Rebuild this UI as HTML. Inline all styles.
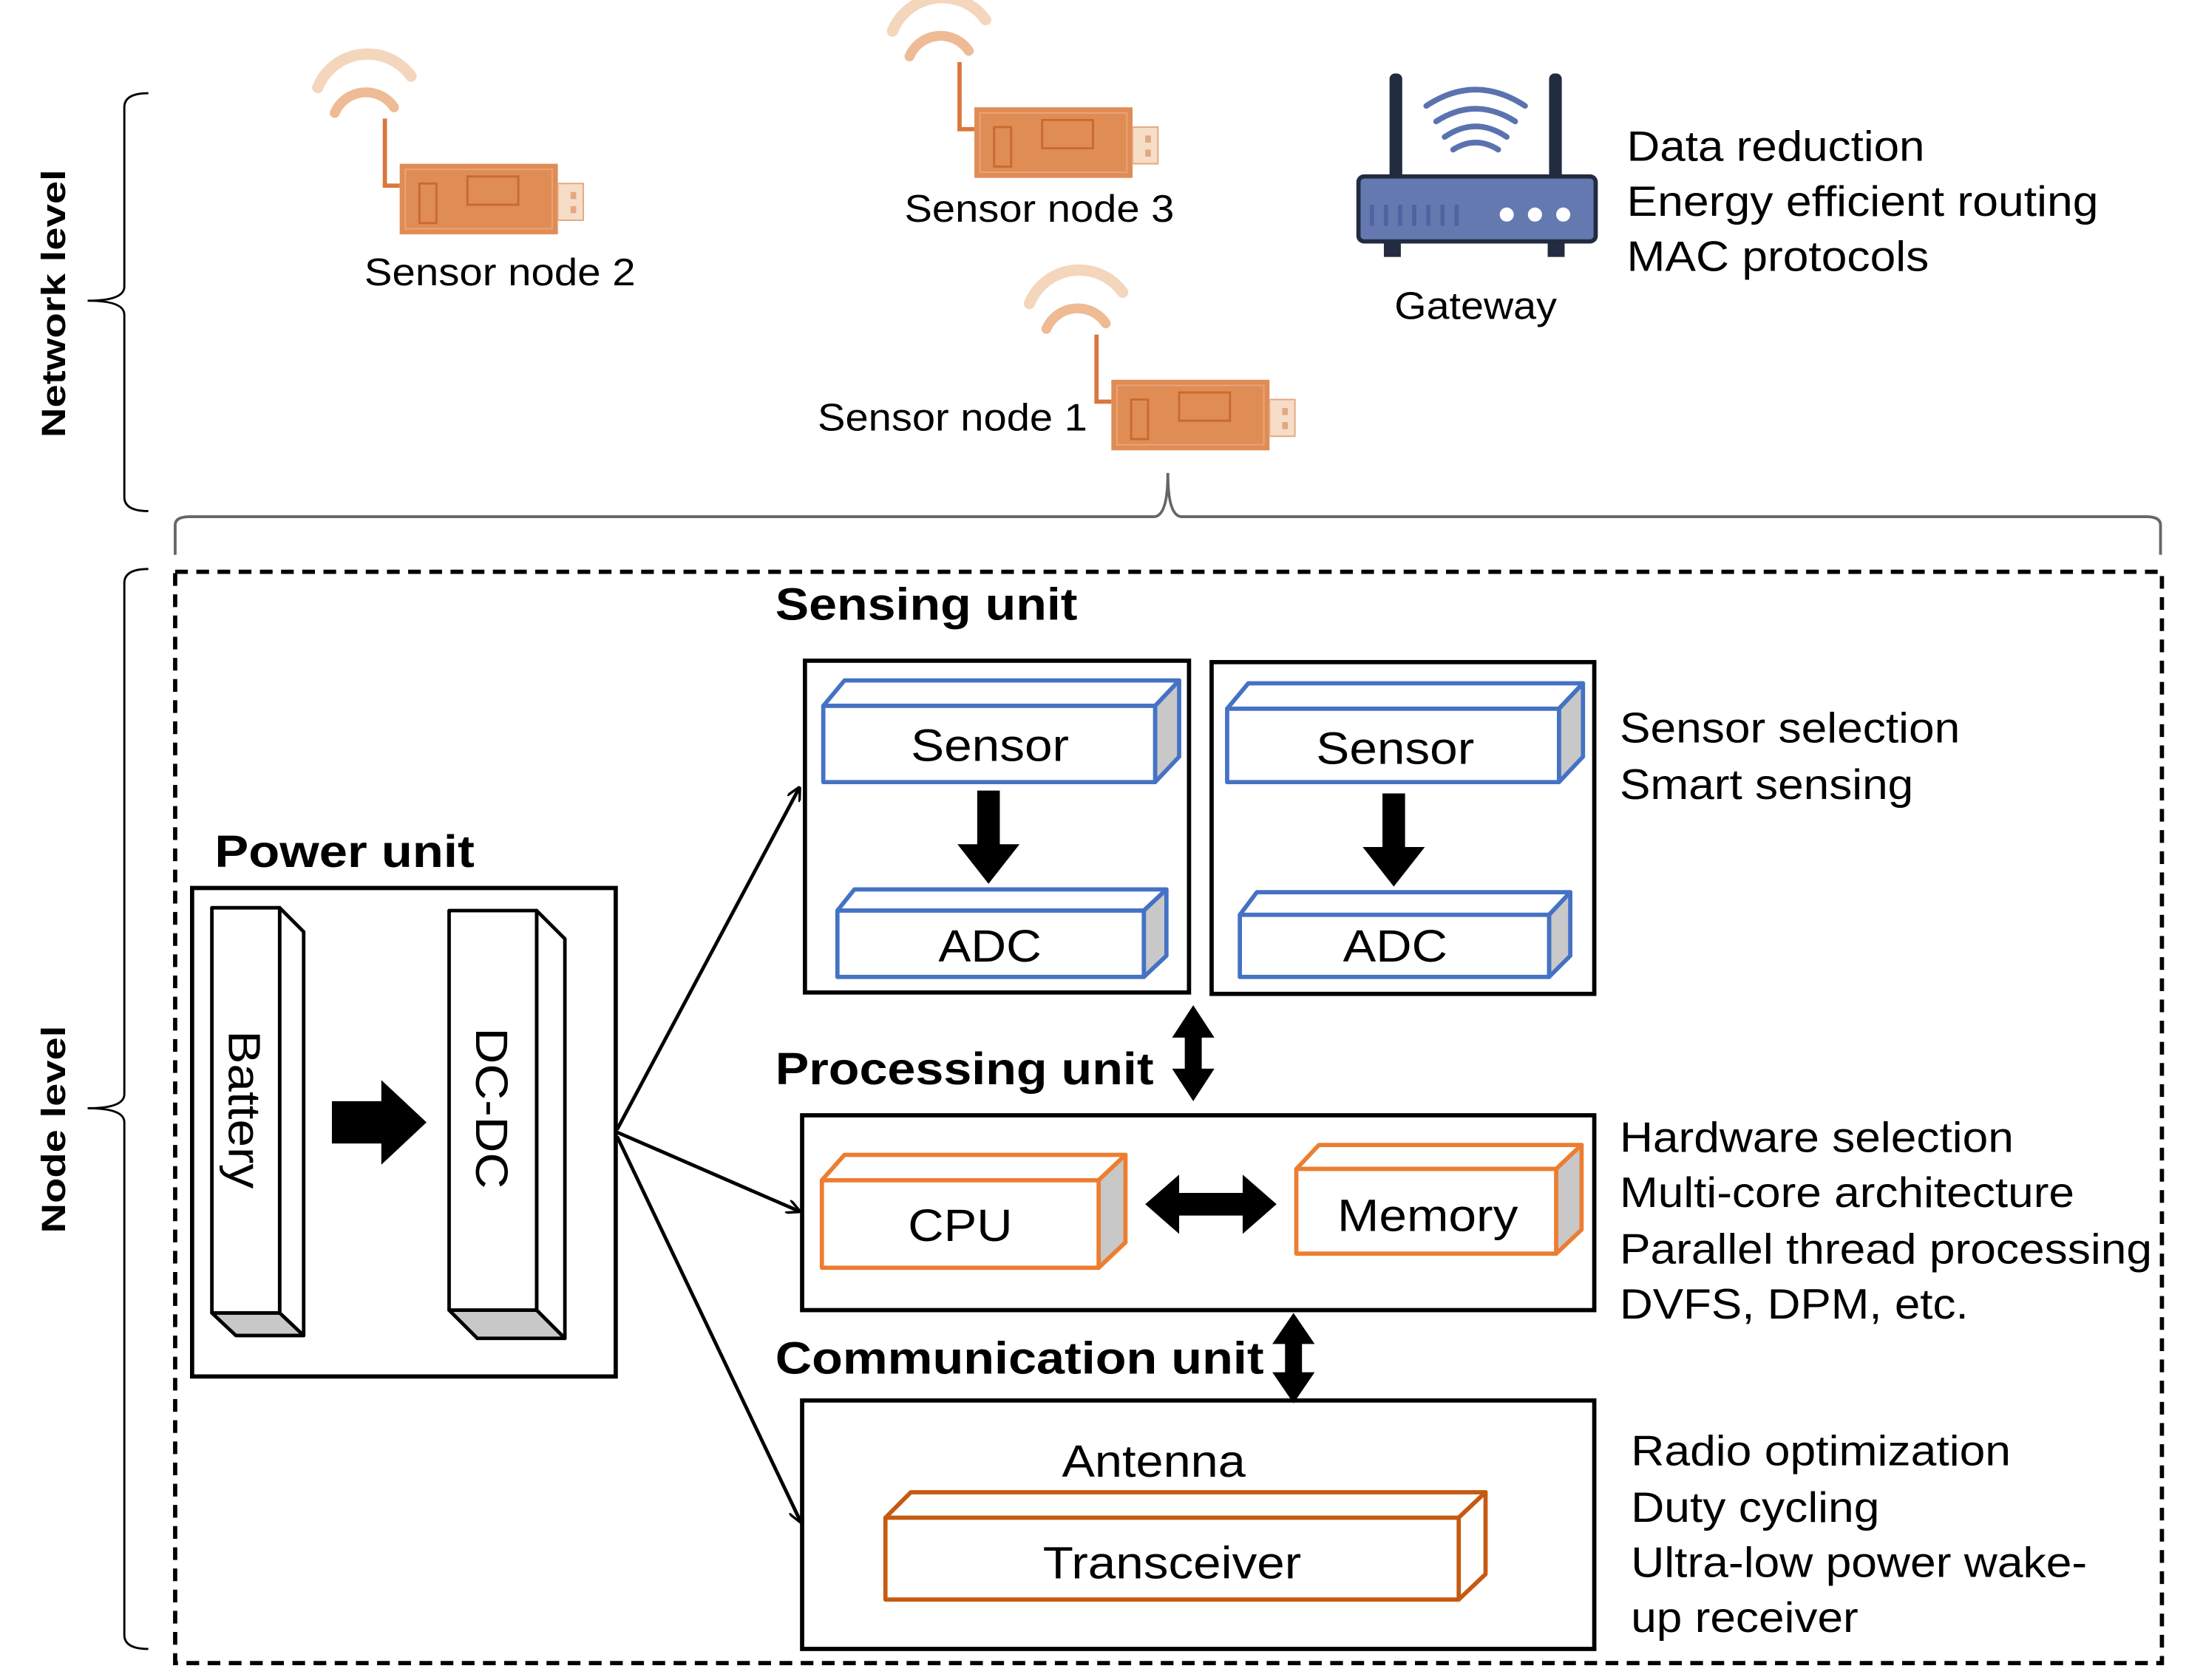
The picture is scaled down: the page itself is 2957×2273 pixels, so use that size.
<!DOCTYPE html>
<html><head><meta charset="utf-8"><style>
html,body{margin:0;padding:0;background:#fff;}
svg{display:block;}
text{font-family:"Liberation Sans",Arial,sans-serif;fill:#000;}
.b{font-weight:bold;}
</style></head><body>
<svg width="2957" height="2273" viewBox="0 0 1548 1190" xmlns="http://www.w3.org/2000/svg">
<defs>
<g id="node">
  <path d="M-58,-98 a38,38 0 0 1 66,-8" fill="none" stroke="#f4d6bd" stroke-width="8" stroke-linecap="round"/>
  <path d="M-46,-80 a24,24 0 0 1 42,-4" fill="none" stroke="#eebb95" stroke-width="7" stroke-linecap="round"/>
  <rect x="-12" y="-76" width="3" height="48" fill="#d9773c"/>
  <rect x="-12" y="-30" width="12" height="3" fill="#d9773c"/>
  <rect x="0" y="-44" width="112" height="50" fill="#e08c55"/>
  <rect x="4" y="-40" width="104" height="42" fill="none" stroke="#eaa57a" stroke-width="1"/>
  <rect x="14" y="-30" width="12" height="28" fill="none" stroke="#c86a30" stroke-width="1.5"/>
  <rect x="48" y="-35" width="36" height="20" fill="none" stroke="#c86a30" stroke-width="1.5"/>
  <rect x="112" y="-30" width="18" height="26" fill="#f6ddc8" stroke="#e6a67c" stroke-width="1"/>
  <rect x="121" y="-24" width="4" height="5" fill="#e2a880"/>
  <rect x="121" y="-14" width="4" height="5" fill="#e2a880"/>
</g>
<marker id="ah" viewBox="0 0 10 10" refX="9" refY="5" markerWidth="10" markerHeight="10" markerUnits="userSpaceOnUse" orient="auto">
  <path d="M0,0 L10,5 L0,10" fill="none" stroke="#000" stroke-width="1.8"/>
</marker>
</defs>

<path d="M105,66 Q88,66 88,76 L88,203 Q88,213 62,213 Q88,213 88,223 L88,352 Q88,362 105,362" fill="none" stroke="#000" stroke-width="1.5"/>
<text class="b" font-size="24" transform="translate(46,215) rotate(-90)" text-anchor="middle" textLength="190" lengthAdjust="spacingAndGlyphs">Network level</text>
<path d="M105,403 Q88,403 88,413 L88,775 Q88,785 62,785 Q88,785 88,795 L88,1158 Q88,1168 105,1168" fill="none" stroke="#000" stroke-width="1.5"/>
<text class="b" font-size="24" transform="translate(46,800) rotate(-90)" text-anchor="middle" textLength="147" lengthAdjust="spacingAndGlyphs">Node level</text>

<path d="M124,393 L124,372 Q124,366 134,366 L817,366 Q827,366 827,335 Q827,366 837,366 L1520,366 Q1530,366 1530,372 L1530,393" fill="none" stroke="#666" stroke-width="2"/>

<use href="#node" transform="translate(283,160)"/>
<use href="#node" transform="translate(690,120)"/>
<use href="#node" transform="translate(787,313)"/>
<text font-size="27" x="354" y="202" text-anchor="middle" textLength="192" lengthAdjust="spacingAndGlyphs">Sensor node 2</text>
<text font-size="27" x="736" y="157" text-anchor="middle" textLength="191" lengthAdjust="spacingAndGlyphs">Sensor node 3</text>
<text font-size="27" x="579" y="305" textLength="191" lengthAdjust="spacingAndGlyphs">Sensor node 1</text>

<rect x="984" y="52" width="9" height="76" rx="4" fill="#232b40"/>
<rect x="1097" y="52" width="9" height="76" rx="4" fill="#232b40"/>
<g fill="none" stroke="#5b72b0" stroke-width="4" stroke-linecap="round">
<path d="M1010,75 Q1045,52 1080,75"/><path d="M1017,86 Q1045,68 1073,86"/><path d="M1023,97 Q1045,82 1067,97"/><path d="M1029,106 Q1045,96 1061,106"/>
</g>
<rect x="980" y="164" width="12" height="18" fill="#232b40"/>
<rect x="1096" y="164" width="12" height="18" fill="#232b40"/>
<rect x="962" y="125" width="168" height="46" rx="4" fill="#6479b0" stroke="#232b40" stroke-width="3"/>
<g fill="#4f63a0"><rect x="970" y="145" width="3" height="15"/><rect x="980" y="145" width="3" height="15"/><rect x="990" y="145" width="3" height="15"/><rect x="1000" y="145" width="3" height="15"/><rect x="1010" y="145" width="3" height="15"/><rect x="1020" y="145" width="3" height="15"/><rect x="1030" y="145" width="3" height="15"/></g>
<circle cx="1067" cy="152" r="5" fill="#fff"/><circle cx="1087" cy="152" r="5" fill="#fff"/><circle cx="1107" cy="152" r="5" fill="#fff"/>
<text font-size="27" x="1045" y="226" text-anchor="middle" textLength="115" lengthAdjust="spacingAndGlyphs">Gateway</text>

<text font-size="30" x="1152" y="114" textLength="211" lengthAdjust="spacingAndGlyphs">Data reduction</text>
<text font-size="30" x="1152" y="153" textLength="334" lengthAdjust="spacingAndGlyphs">Energy efficient routing</text>
<text font-size="30" x="1152" y="192" textLength="214" lengthAdjust="spacingAndGlyphs">MAC protocols</text>

<rect x="124" y="405" width="1407" height="773" fill="none" stroke="#000" stroke-width="3" stroke-dasharray="9,6"/>

<text class="b" font-size="32" x="549" y="439" textLength="214" lengthAdjust="spacingAndGlyphs">Sensing unit</text>
<rect x="570" y="468" width="272" height="235" fill="none" stroke="#000" stroke-width="3"/>
<rect x="858" y="469" width="271" height="235" fill="none" stroke="#000" stroke-width="3"/>
<g stroke="#4472c4" stroke-width="3" stroke-linejoin="round">
<path d="M583,500 L598,482 L835,482 L818,500Z" fill="#fff"/>
<path d="M818,500 L835,482 L835,536 L818,554Z" fill="#c8c8c8"/>
<rect x="583" y="500" width="235" height="54" fill="#fff"/>
<path d="M593,645 L605,630 L826,630 L810,645Z" fill="#fff"/>
<path d="M810,645 L826,630 L826,677 L810,692Z" fill="#c8c8c8"/>
<rect x="593" y="645" width="217" height="47" fill="#fff"/>
<path d="M869,502 L884,484 L1121,484 L1104,502Z" fill="#fff"/>
<path d="M1104,502 L1121,484 L1121,536 L1104,554Z" fill="#c8c8c8"/>
<rect x="869" y="502" width="235" height="52" fill="#fff"/>
<path d="M878,648 L890,632 L1112,632 L1097,648Z" fill="#fff"/>
<path d="M1097,648 L1112,632 L1112,677 L1097,692Z" fill="#c8c8c8"/>
<rect x="878" y="648" width="219" height="44" fill="#fff"/>
</g>
<text font-size="32" x="701" y="539" text-anchor="middle" textLength="112" lengthAdjust="spacingAndGlyphs">Sensor</text>
<text font-size="32" x="701" y="681" text-anchor="middle" textLength="73" lengthAdjust="spacingAndGlyphs">ADC</text>
<text font-size="32" x="988" y="541" text-anchor="middle" textLength="112" lengthAdjust="spacingAndGlyphs">Sensor</text>
<text font-size="32" x="988" y="681" text-anchor="middle" textLength="74" lengthAdjust="spacingAndGlyphs">ADC</text>
<path d="M692,560 L708,560 L708,598 L722,598 L700,626 L678,598 L692,598Z" fill="#000"/>
<path d="M979,562 L995,562 L995,600 L1009,600 L987,628 L965,600 L979,600Z" fill="#000"/>
<text font-size="30" x="1147" y="526" textLength="241" lengthAdjust="spacingAndGlyphs">Sensor selection</text>
<text font-size="30" x="1147" y="566" textLength="208" lengthAdjust="spacingAndGlyphs">Smart sensing</text>

<text class="b" font-size="32" x="152" y="614" textLength="184" lengthAdjust="spacingAndGlyphs">Power unit</text>
<rect x="136" y="629" width="300" height="346" fill="none" stroke="#000" stroke-width="3"/>
<g stroke="#000" stroke-width="2.5" stroke-linejoin="round">
<path d="M198,643 L215,660 L215,946 L198,930Z" fill="#fff"/>
<path d="M150,930 L198,930 L215,946 L167,946Z" fill="#c8c8c8"/>
<rect x="150" y="643" width="48" height="287" fill="#fff"/>
<path d="M380,645 L400,665 L400,948 L380,928Z" fill="#fff"/>
<path d="M318,928 L380,928 L400,948 L338,948Z" fill="#c8c8c8"/>
<rect x="318" y="645" width="62" height="283" fill="#fff"/>
</g>
<text font-size="32" transform="translate(162,786) rotate(90)" text-anchor="middle" textLength="112" lengthAdjust="spacingAndGlyphs">Battery</text>
<text font-size="32" transform="translate(337,785) rotate(90)" text-anchor="middle" textLength="114" lengthAdjust="spacingAndGlyphs">DC-DC</text>
<path d="M235,780 L270,780 L270,765 L302,795 L270,825 L270,810 L235,810Z" fill="#000"/>

<g stroke="#000" stroke-width="2.5" fill="none" marker-end="url(#ah)">
<line x1="437" y1="800" x2="566" y2="558"/>
<line x1="437" y1="802" x2="566" y2="858"/>
<line x1="437" y1="805" x2="567" y2="1078"/>
</g>

<text class="b" font-size="32" x="549" y="768" textLength="268" lengthAdjust="spacingAndGlyphs">Processing unit</text>
<path d="M845,712 L860,735 L851,735 L851,757 L860,757 L845,780 L830,757 L839,757 L839,735 L830,735Z" fill="#000"/>
<rect x="568" y="790" width="561" height="138" fill="none" stroke="#000" stroke-width="3"/>
<g stroke="#ed7d31" stroke-width="3" stroke-linejoin="round">
<path d="M582,836 L598,818 L797,818 L778,836Z" fill="#fff"/>
<path d="M778,836 L797,818 L797,880 L778,898Z" fill="#c8c8c8"/>
<rect x="582" y="836" width="196" height="62" fill="#fff"/>
<path d="M918,828 L934,811 L1120,811 L1102,828Z" fill="#fff"/>
<path d="M1102,828 L1120,811 L1120,871 L1102,888Z" fill="#c8c8c8"/>
<rect x="918" y="828" width="184" height="60" fill="#fff"/>
</g>
<text font-size="32" x="680" y="879" text-anchor="middle" textLength="74" lengthAdjust="spacingAndGlyphs">CPU</text>
<text font-size="32" x="1011" y="872" text-anchor="middle" textLength="128" lengthAdjust="spacingAndGlyphs">Memory</text>
<path d="M811,853 L835,832 L835,845 L880,845 L880,832 L904,853 L880,874 L880,861 L835,861 L835,874Z" fill="#000"/>
<text font-size="30" x="1147" y="816" textLength="279" lengthAdjust="spacingAndGlyphs">Hardware selection</text>
<text font-size="30" x="1147" y="855" textLength="322" lengthAdjust="spacingAndGlyphs">Multi-core architecture</text>
<text font-size="30" x="1147" y="895" textLength="377" lengthAdjust="spacingAndGlyphs">Parallel thread processing</text>
<text font-size="30" x="1147" y="934" textLength="247" lengthAdjust="spacingAndGlyphs">DVFS, DPM, etc.</text>

<text class="b" font-size="32" x="549" y="973" textLength="346" lengthAdjust="spacingAndGlyphs">Communication unit</text>
<path d="M916,930 L931,952 L922,952 L922,972 L931,972 L916,994 L901,972 L910,972 L910,952 L901,952Z" fill="#000"/>
<rect x="568" y="992" width="561" height="176" fill="none" stroke="#000" stroke-width="3"/>
<text font-size="32" x="817" y="1046" text-anchor="middle" textLength="130" lengthAdjust="spacingAndGlyphs">Antenna</text>
<g stroke="#c55a11" stroke-width="3" stroke-linejoin="round">
<path d="M627,1075 L645,1057 L1052,1057 L1033,1075Z" fill="#fff"/>
<path d="M1033,1075 L1052,1057 L1052,1115 L1033,1133Z" fill="#fff"/>
<rect x="627" y="1075" width="406" height="58" fill="#fff"/>
</g>
<text font-size="32" x="830" y="1118" text-anchor="middle" textLength="183" lengthAdjust="spacingAndGlyphs">Transceiver</text>
<text font-size="30" x="1155" y="1038" textLength="269" lengthAdjust="spacingAndGlyphs">Radio optimization</text>
<text font-size="30" x="1155" y="1078" textLength="176" lengthAdjust="spacingAndGlyphs">Duty cycling</text>
<text font-size="30" x="1155" y="1117" textLength="323" lengthAdjust="spacingAndGlyphs">Ultra-low power wake-</text>
<text font-size="30" x="1155" y="1156" textLength="161" lengthAdjust="spacingAndGlyphs">up receiver</text>
</svg>
</body></html>
